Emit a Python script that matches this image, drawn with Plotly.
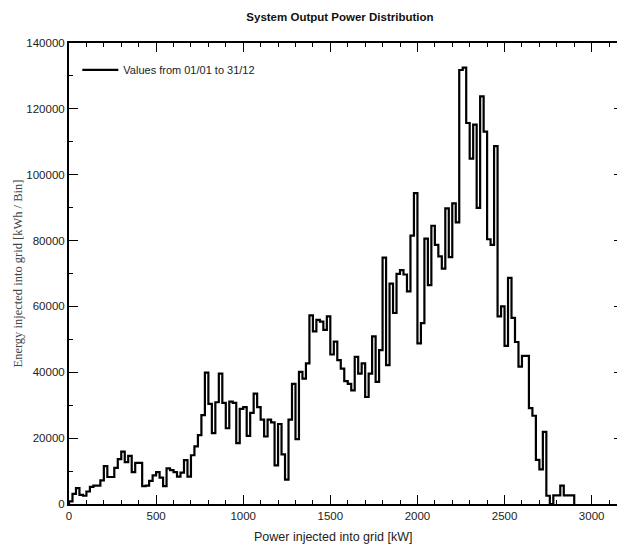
import plotly.graph_objects as go

# PVsyst-style output power histogram, 20 kW bins from 0 to 2900 kW
bin_width = 20
energy_per_bin = [
    800, 3100, 4800, 2800, 2500, 3800, 5200, 5600, 5600, 7200,
    11500, 8200, 8200, 11000, 13600, 15900, 12700, 14600, 9700, 12500,
    12500, 5400, 5600, 7000, 8700, 9700, 8000, 5400, 10800, 10300,
    9700, 8300, 9500, 13300, 8300, 14800, 17500, 20900, 27000, 39900,
    30400, 21500, 30900, 39600, 30700, 23000, 31100, 30700, 18500, 28900,
    29400, 20700, 27700, 33500, 29400, 25600, 20500, 25600, 24800, 11700,
    24300, 15100, 7400, 25600, 36500, 19700, 40100, 38100, 42700, 57300,
    52400, 55900, 55400, 52900, 57000, 45400, 49300, 43700, 41100, 37300,
    36500, 34500, 44700, 39600, 42700, 32500, 39600, 50900, 37100, 46700,
    74800, 42200, 66900, 58000, 69900, 71000, 69700, 64600, 81500, 94400,
    48800, 54900, 80600, 66500, 84500, 78700, 75200, 71500, 89800, 75000,
    91300, 85500, 131800, 132500, 115700, 104900, 115200, 89900, 123800, 113100,
    80400, 78700, 108700, 57000, 60000, 48000, 68700, 56500, 49200, 41700,
    45000, 45000, 29100, 26800, 13400, 10500, 21900, 2500, 0, 2600,
    2600, 5600, 2600, 2600, 2600,
]

edges = [i * bin_width for i in range(len(energy_per_bin) + 1)]
step_x = [0] + edges
step_y = [0] + energy_per_bin + [0]

fig = go.Figure()
fig.add_trace(
    go.Scatter(
        x=step_x,
        y=step_y,
        mode="lines",
        line=dict(color="black", width=2.2, shape="hv"),
        name="Values from 01/01 to 31/12",
        showlegend=True,
    )
)

axis_common = dict(
    showline=True,
    linecolor="black",
    linewidth=2,
    mirror="allticks",
    ticks="inside",
    tickcolor="black",
    tickwidth=1,
    ticklen=9,
    showgrid=False,
    zeroline=False,
    tickfont=dict(family="Liberation Sans, Arial", size=11.5, color="#222"),
)

# page body adds an 8px offset, so the figure is 8px smaller than the window
fig.update_layout(
    width=617,
    height=538,
    margin=dict(l=61, r=0, t=35, b=42),
    paper_bgcolor="white",
    plot_bgcolor="white",
    title=dict(
        text="<b>System Output Power Distribution</b>",
        x=0.538,
        xanchor="center",
        y=0.983,
        yanchor="middle",
        font=dict(family="Liberation Sans, Arial", size=11.5, color="#111"),
    ),
    xaxis=dict(
        **axis_common,
        range=[0, 3180],
        dtick=500,
        tick0=0,
        minor=dict(dtick=100, ticklen=4, ticks="inside", tickcolor="black"),
    ),
    yaxis=dict(
        **axis_common,
        range=[0, 140000],
        dtick=20000,
        tick0=0,
        tickformat="d",
        minor=dict(dtick=10000, ticklen=4, ticks="inside", tickcolor="black"),
    ),
    legend=dict(
        x=0.015,
        y=0.973,
        xanchor="left",
        yanchor="top",
        itemwidth=36,
        bgcolor="rgba(0,0,0,0)",
        borderwidth=0,
        font=dict(family="Liberation Sans, Arial", size=11, color="#222"),
    ),
    annotations=[
        dict(
            text="Power injected into grid [kW]",
            xref="paper",
            yref="paper",
            x=0.477,
            y=0,
            yshift=-33,
            showarrow=False,
            xanchor="center",
            yanchor="middle",
            font=dict(family="Liberation Sans, Arial", size=12.5, color="#222"),
        ),
        dict(
            text="Energy injected into grid [kWh / Bin]",
            xref="paper",
            yref="paper",
            x=0,
            y=0.5,
            xshift=-52,
            textangle=-90,
            showarrow=False,
            xanchor="center",
            yanchor="middle",
            font=dict(family="Liberation Serif, Times New Roman", size=12.5, color="#444"),
        ),
    ],
)

fig.write_html("out.html")
